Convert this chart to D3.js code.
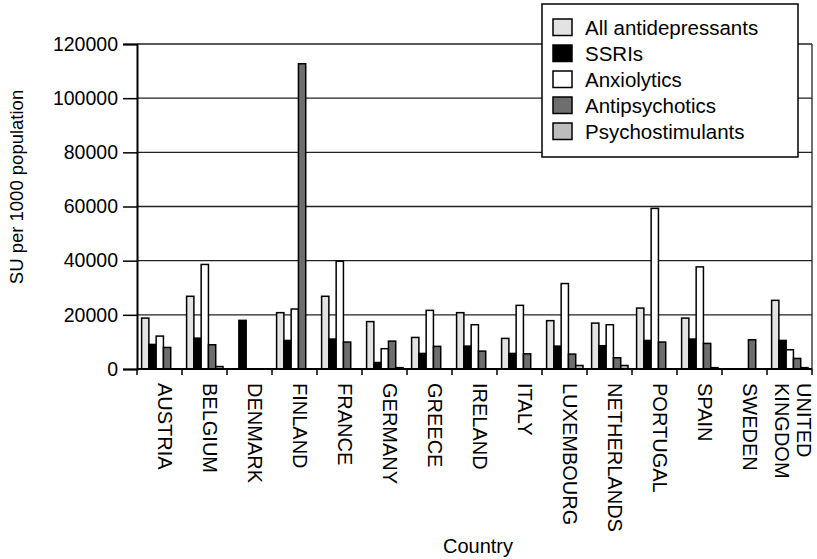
<!DOCTYPE html>
<html>
<head>
<meta charset="utf-8">
<script src="https://cdn.jsdelivr.net/npm/d3@7"></script>
<style>
  body { margin: 0; background: #fff; }
  svg { display: block; font-family: "Liberation Sans", Arial, sans-serif; }
</style>
</head>
<body>
<div id="chart"><svg width="817" height="559"></svg></div>
<script>
const countries = ['AUSTRIA', 'BELGIUM', 'DENMARK', 'FINLAND', 'FRANCE', 'GERMANY', 'GREECE', 'IRELAND',
    'ITALY', 'LUXEMBOURG', 'NETHERLANDS', 'PORTUGAL', 'SPAIN', 'SWEDEN', 'UNITED KINGDOM']
const seriesNames = ['All antidepressants', 'SSRIs', 'Anxiolytics', 'Antipsychotics', 'Psychostimulants']
const allAntidepressants = [18800, 26850, null, 20800, 26850, 17500, 11650, 20800, 11300, 17850, 16950, 22500, 18800, null, 25350]
const ssris = [9070, 11400, 17960, 10550, 11050, 2400, 5750, 8450, 5750, 8450, 8600, 10550, 11050, null, 10550]
const anxiolytics = [12150, 38600, null, 22150, 39800, 7500, 21650, 16350, 23500, 31550, 16350, 59300, 37700, null, 7100]
const antipsychotics = [7960, 8950, null, 112700, 9950, 10300, 8350, 6600, 5600, 5500, 4150, 9950, 9450, 10800, 3900]
const psychostimulants = [null, 900, null, null, null, 500, null, null, null, 1300, 1300, null, 500, null, 500]
const yTicks = [0, 20000, 40000, 60000, 80000, 100000, 120000]
const colors = ['#e3e3e3', '#000000', '#ffffff', '#6e6e6e', '#bdbdbd']

const series = [allAntidepressants, ssris, anxiolytics, antipsychotics, psychostimulants]

const svg = d3.select('#chart svg')

const x0 = d3.scaleBand()
    .domain(countries)
    .range([137, 812])
    .padding(0)

const x1 = d3.scaleBand()
    .domain(seriesNames)
    .range([4.6, 41])
    .padding(0)

const y = d3.scaleLinear()
    .domain([0, 120000])
    .range([369, 44])

// gridlines
svg.append('g')
    .selectAll('line')
    .data(yTicks.slice(1))
    .join('line')
    .attr('x1', 137)
    .attr('x2', 812)
    .attr('y1', d => y(d))
    .attr('y2', d => y(d))
    .attr('stroke', '#222')
    .attr('stroke-width', 1.3)

svg.append('line')
    .attr('x1', 812).attr('x2', 812)
    .attr('y1', y(120000)).attr('y2', y(0))
    .attr('stroke', '#222')
    .attr('stroke-width', 1.3)

// bars
const bars = []
countries.forEach((c, i) => {
    series.forEach((s, j) => {
        if (s[i] != null) bars.push({ country: c, name: seriesNames[j], value: s[i], color: colors[j] })
    })
})

svg.append('g')
    .selectAll('rect')
    .data(bars)
    .join('rect')
    .attr('x', d => x0(d.country) + x1(d.name))
    .attr('y', d => y(d.value))
    .attr('width', x1.bandwidth())
    .attr('height', d => y(0) - y(d.value))
    .attr('fill', d => d.color)
    .attr('stroke', '#000')
    .attr('stroke-width', 1.5)

// y axis
const yAxis = svg.append('g')
    .attr('transform', 'translate(137,0)')
    .call(d3.axisLeft(y).tickValues(yTicks).tickSize(14).tickPadding(5).tickFormat(d3.format('d')))
yAxis.select('.domain').attr('stroke', '#000').attr('stroke-width', 2)
yAxis.selectAll('.tick line').attr('stroke', '#000').attr('stroke-width', 1.5)
yAxis.selectAll('.tick text')
    .attr('fill', '#000')
    .style('font-size', '19.5px')
    .style('font-family', '"Liberation Sans", Arial, sans-serif')

// x axis
const xAxis = svg.append('g')
    .attr('transform', `translate(0,${y(0)})`)
xAxis.append('line')
    .attr('x1', 137).attr('x2', 812)
    .attr('stroke', '#000')
    .attr('stroke-width', 2)
xAxis.selectAll('line.tick')
    .data(d3.range(countries.length + 1))
    .join('line')
    .attr('class', 'tick')
    .attr('x1', i => x0.range()[0] + i * x0.step())
    .attr('x2', i => x0.range()[0] + i * x0.step())
    .attr('y1', 0)
    .attr('y2', 6)
    .attr('stroke', '#000')
    .attr('stroke-width', 1.5)

xAxis.selectAll('text')
    .data(countries)
    .join('text')
    .attr('transform', d => `translate(${x0(d) + x0.bandwidth() / 2 + 5},14) rotate(90)`)
    .style('font-size', '20px')
    .attr('fill', '#000')
    .each(function (d) {
        const words = d === 'UNITED KINGDOM' ? ['UNITED', 'KINGDOM'] : [d]
        const t = d3.select(this)
        if (words.length === 1) {
            t.append('tspan').attr('x', 0).attr('dy', '0.35em').text(words[0])
        } else {
            t.append('tspan').attr('x', 0).attr('dy', '-0.1em').text(words[0])
            t.append('tspan').attr('x', 0).attr('dy', '1.1em').text(words[1])
        }
    })

// axis titles
svg.append('text')
    .attr('x', 478)
    .attr('y', 553)
    .attr('text-anchor', 'middle')
    .style('font-size', '20px')
    .text('Country')

svg.append('text')
    .attr('transform', 'translate(23,187) rotate(-90)')
    .attr('text-anchor', 'middle')
    .style('font-size', '18.5px')
    .text('SU per 1000 population')

// legend
const legend = svg.append('g')
legend.append('rect')
    .attr('x', 542).attr('y', 4)
    .attr('width', 256).attr('height', 153)
    .attr('fill', '#fff')
    .attr('stroke', '#000')
    .attr('stroke-width', 1.5)

const items = legend.selectAll('g.item')
    .data(seriesNames)
    .join('g')
    .attr('class', 'item')
    .attr('transform', (d, i) => `translate(553,${19 + i * 26})`)
items.append('rect')
    .attr('width', 19)
    .attr('height', 16.5)
    .attr('fill', (d, i) => colors[i])
    .attr('stroke', '#000')
    .attr('stroke-width', 1.5)
items.append('text')
    .attr('x', 32)
    .attr('y', 16)
    .style('font-size', '20.5px')
    .text(d => d)
</script>
</body>
</html>
